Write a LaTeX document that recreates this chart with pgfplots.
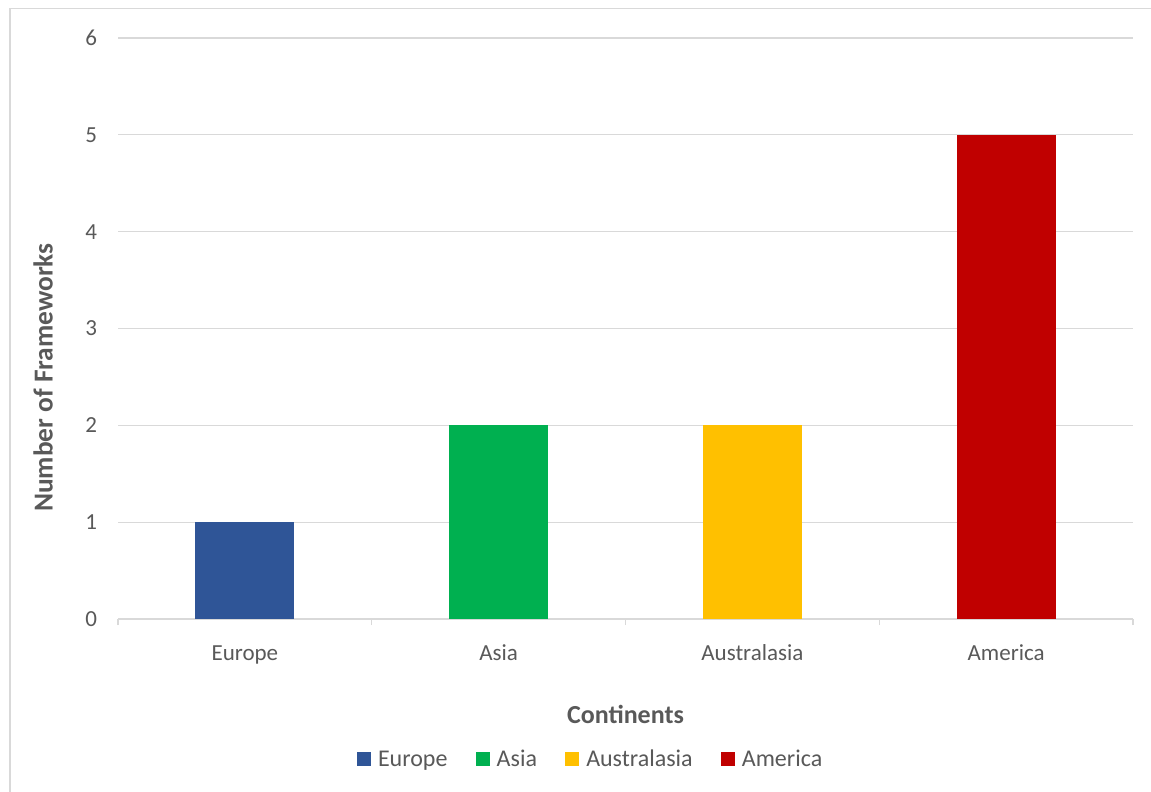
\documentclass[border=0pt]{standalone}
\usepackage{fontspec}
\setmainfont{Carlito}
\usepackage{pgfplots}
\pgfplotsset{compat=1.18}
\definecolor{eur}{HTML}{2F5597}
\definecolor{asi}{HTML}{00B050}
\definecolor{aus}{HTML}{FFC000}
\definecolor{ame}{HTML}{C00000}
\definecolor{gridc}{HTML}{D9D9D9}
\definecolor{txt}{HTML}{595959}
\begin{document}
\begin{tikzpicture}
\useasboundingbox (0,0) rectangle (575.5pt,-396pt);
\draw[gridc, line width=0.9pt] (5pt,-396pt) -- (5pt,-4.25pt) -- (575.5pt,-4.25pt);
\begin{axis}[
  at={(59pt,-309.5pt)}, anchor=south west,
  scale only axis, width=507.5pt, height=290.5pt,
  xmin=-0.5, xmax=3.5, ymin=0, ymax=6,
  ytick={0,1,2,3,4,5,6},
  ymajorgrids, grid style={gridc, line width=0.6pt},
  axis line style={draw=none},
  y axis line style={draw=none},
  major tick length=0pt,
  xtick={0,1,2,3},
  xticklabels={Europe,Asia,Australasia,America},
  extra x ticks={-0.5,0.5,1.5,2.5,3.5},
  extra x tick labels={},
  extra x tick style={major tick length=3pt, tick style={gridc, line width=0.6pt}, tickpos=left, tick align=outside, xmajorgrids=false},
  tick label style={font=\fontsize{11.5}{13}\selectfont, text=txt},
  /pgf/number format/assume math mode=true,
  xticklabel style={yshift=-9pt, text height=8pt, text depth=2.5pt},
  yticklabel style={xshift=-7pt},
  every axis x label/.style={at={(rel axis cs:0.5,0)}, yshift=-47.5pt, anchor=center},
  every axis y label/.style={at={(rel axis cs:0,0.5)}, xshift=-37.5pt, yshift=-24.5pt, rotate=90, anchor=center},
  xlabel={\textbf{Continents}},
  ylabel={\fontsize{13.7}{15}\selectfont\textbf{Number of Frameworks}},
  label style={font=\fontsize{13}{15}\selectfont, text=txt},
  ybar, bar width=49.5pt, bar shift=0pt,
  legend style={at={(rel axis cs:0.5,0)}, xshift=-17pt, yshift=-70.5pt, anchor=center, draw=none, font=\fontsize{12}{14}\selectfont, text=txt, legend columns=4, /tikz/every even column/.append style={column sep=12pt}, /tikz/every odd column/.append style={column sep=1.5pt}},
  legend image code/.code={\fill[#1] (0cm,-0.11cm) rectangle (0.25cm,0.14cm);},
  clip=false,
]
\draw[gridc, line width=0.6pt] (axis cs:-0.5,0) -- (axis cs:3.5,0);
\addplot[fill=eur, draw=none] coordinates {(0,1)};
\addplot[fill=asi, draw=none] coordinates {(1,2)};
\addplot[fill=aus, draw=none] coordinates {(2,2)};
\addplot[fill=ame, draw=none] coordinates {(3,5)};
\legend{Europe,Asia,Australasia,America}
\end{axis}
\end{tikzpicture}
\end{document}
